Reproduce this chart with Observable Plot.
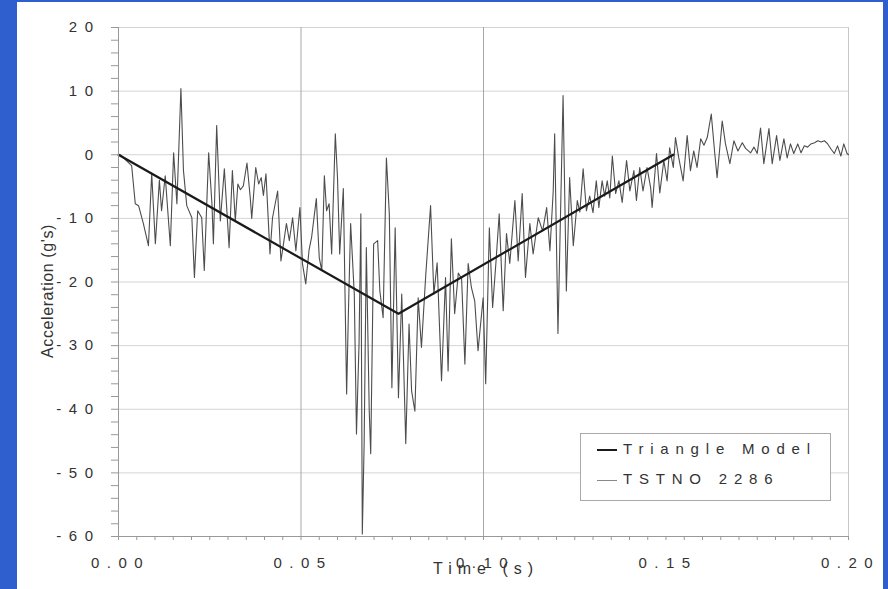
<!DOCTYPE html>
<html><head><meta charset="utf-8">
<script src="https://cdn.jsdelivr.net/npm/d3@7"></script>
<script src="https://cdn.jsdelivr.net/npm/@observablehq/plot@0.6"></script>
<style>
html,body{margin:0;padding:0;background:#fff;}
#wrap{position:relative;width:888px;height:589px;background:#2f5fcf;overflow:hidden;font-family:"Liberation Sans",Arial,sans-serif;}
#panel{position:absolute;left:17px;top:2px;width:866px;height:587px;background:#fff;}
#chart{position:absolute;left:0;top:0;}
#chart g[aria-label="y-axis tick label"], #chart g[aria-label="x-axis tick label"]{font-size:15px !important;}
#chart g[aria-label="y-axis tick label"] text,#chart g[aria-label="x-axis tick label"] text{letter-spacing:7.5px;font-size:15px !important;}
#ylab{position:absolute;left:48px;top:291px;transform:translate(-50%,-50%) rotate(-90deg);font-size:16px;letter-spacing:0.6px;color:#333;white-space:nowrap;}
#xlab{position:absolute;left:486px;top:560px;transform:translateX(-50%);font-size:16px;letter-spacing:6px;color:#333;white-space:nowrap;}
#legend{position:absolute;left:580px;top:433px;width:251px;height:68px;border:1px solid #aaa;background:#fff;box-sizing:border-box;}
.lrow{position:absolute;left:16px;font-size:15px;letter-spacing:6.8px;color:#333;white-space:nowrap;}
.ldash{display:inline-block;width:20px;height:0;vertical-align:middle;margin-right:6px;}
</style></head>
<body>
<div id="wrap"><div id="panel"></div><div id="chart"></div>
<div id="ylab">Acceleration (g's)</div>
<div id="xlab">Time (s)</div>
<div id="legend"></div>
</div>
<script>
// Axis ticks
const xTickValues = [0, 0.05, 0.10, 0.15, 0.20];
const xTickLabels = ["0.00", "0.05", "0.10", "0.15", "0.20"];
const xGridValues = [0.05, 0.10];
const yTickValues = [-60, -50, -40, -30, -20, -10, 0, 10, 20];
const yTickLabels = ["-60", "-50", "-40", "-30", "-20", "-10", "0", "10", "20"];

// Series names
const seriesNames = ["Triangle Model", "TSTNO 2286"];

// Triangle model
const triTime = [0, 0.0767, 0.152];
const triAccel = [0, -25, 0];

// TSTNO 2286 test record
const testTime = [0, 0.0005, 0.0036, 0.0046, 0.0055, 0.0068, 0.0082, 0.0091, 0.0101, 0.0112, 0.0118, 0.0128, 0.0142, 0.0151, 0.0160, 0.0171, 0.0178, 0.0187, 0.0201, 0.0208, 0.0217, 0.0228, 0.0235, 0.0247, 0.0256, 0.0260, 0.0269, 0.0279, 0.0290, 0.0303, 0.0312, 0.0320, 0.0327, 0.0334, 0.0342, 0.0352, 0.0361, 0.0365, 0.0376, 0.0384, 0.0391, 0.0397,
0.0404, 0.0415, 0.0422, 0.0436, 0.0445, 0.0452, 0.0460, 0.0468, 0.0477, 0.0486, 0.0497, 0.0504, 0.0513, 0.0522, 0.0529, 0.0542, 0.0550, 0.0557, 0.0564, 0.0570, 0.0577, 0.0584, 0.0594, 0.0600, 0.0606, 0.0616, 0.0625, 0.0630, 0.0636, 0.0646, 0.0652, 0.0659, 0.0664, 0.0668, 0.0673, 0.0679, 0.0687, 0.0691, 0.0699, 0.0710, 0.0716, 0.0725, 0.0734, 0.0742, 0.0749, 0.0758, 0.0767, 0.0776, 0.0787, 0.0796,
0.0803, 0.0812, 0.0821, 0.0830, 0.0842, 0.0855, 0.0864, 0.0873, 0.0885, 0.0896, 0.0903, 0.0912, 0.0921, 0.0931, 0.0940, 0.0949, 0.0958, 0.0967, 0.0976, 0.0985, 0.0999, 0.1006, 0.1016, 0.1025, 0.1034, 0.1043, 0.1054, 0.1063, 0.1072, 0.1086, 0.1095, 0.1106, 0.1115, 0.1127, 0.1136, 0.1150, 0.1162, 0.1173, 0.1182, 0.1191,
0.1195, 0.1204, 0.1218, 0.1227, 0.1236, 0.1246, 0.1257, 0.1264, 0.1273, 0.1282, 0.1291, 0.1300, 0.1309, 0.1316, 0.1325, 0.1332, 0.1339, 0.1346, 0.1353, 0.1362, 0.1371, 0.1380, 0.1392, 0.1401, 0.1412, 0.1419, 0.1428, 0.1437, 0.1448, 0.1458, 0.1462, 0.1474, 0.1483, 0.1494, 0.1503, 0.1510, 0.1520, 0.1526, 0.1535, 0.1547, 0.1558, 0.1567,
0.1576, 0.1585, 0.1595, 0.1604, 0.1613, 0.1624, 0.1633, 0.1640, 0.1654, 0.1663, 0.1675, 0.1686, 0.1697, 0.1709, 0.1718, 0.1732, 0.1741, 0.1750, 0.1759, 0.1768, 0.1782, 0.1791, 0.1803, 0.1812, 0.1823, 0.1832, 0.1841, 0.1850, 0.1861, 0.1870, 0.1879, 0.1888, 0.1897, 0.1907, 0.1916, 0.1925, 0.1934, 0.1943, 0.1952, 0.1961, 0.1970, 0.1979, 0.1987, 0.1996, 0.2000];
const testAccel = [0, 0, -1.7, -7.7, -8, -10.8, -14.3, -3, -14, -4, -8.8, -3.3, -14.3, 0.3, -7.7, 10.4, -2.5, -8, -9.9, -19.3, -8.8, -9.9, -18.2, 0.3, -7.7, -14, 4.6, -10.4, -2.2, -14.6, -2.5, -10.4, -4.6, -5.5, -4.9, -1.3, -6.8, -10, -2, -4.6, -3.6, -6.4,
-3, -15.6, -9.9, -5.7, -16.7, -14, -10.8, -13.5, -9.9, -15.1, -8.3, -17.1, -20.3, -15, -13, -6.9, -16.2, -18.2, -3.3, -8.8, -7.7, -15.6, 3.3, -3.6, -15.6, -5.3, -37.6, -24.5, -10.8, -21.9, -43.9, -29.7, -9.3, -59.6, -45.4, -14.6, -40.3, -47, -14, -13.5, -21.4, -25.6, -0.5, -9.3, -36.6, -11.5, -38.2, -21.9, -45.4, -26.6,
-37.1, -40.3, -22.5, -30.3, -18.7, -8, -21.9, -17, -35.5, -19.3, -34, -13.2, -25, -18.6, -19.5, -32.9, -17.1, -20.9, -23, -30.8, -22.5, -36, -11.5, -24, -17, -9.3, -24.5, -12.4, -17.1, -7.2, -16.7, -6.1, -19.3, -10.8, -15.6, -9.9, -12, -8.3, -15.1, -5.7,
3.3, -28.1, 9.3, -21.4, -3.6, -14.3, -7.2, -9, -2.2, -8.8, -6.5, -9.1, -4.1, -8.3, -4.1, -6.5, -4.1, -6.8, -0.2, -6.1, -4.1, -7.5, -0.9, -5.7, -2.5, -7.2, -2, -5.7, -2, -5.2, -8.3, 0.2, -6, -0.9, -4.1, 1.1, -2, 2.7, -0.5, -4.1, 3, -2.5,
0.6, -2, 2.5, 1.5, 2.7, 6.4, 0.6, -3.6, 5.3, 1.7, -1.4, 2.2, 0.6, 1.9, 1.0, 0.3, 1.2, 0.2, 4.2, -1.4, 4.1, -1.4, 3, -0.9, 2.5, -0.5, 1.7, 0.2, 1.7, 0.3, 1.4, 1.2, 1.7, 1.9, 2.2, 2, 2.2, 1.7, 0.9, 0.2, 1.4, -0.2, 1.7, 0.2, 0];

const tri = triTime.map((t, i) => ({t, a: triAccel[i]}));
const test = testTime.map((t, i) => ({t, a: testAccel[i]}));
const xMinor = d3.range(0, 0.2001, 0.005);
const yMinor = d3.range(-60, 20.01, 2);

const plot = Plot.plot({
  width: 888, height: 589,
  marginLeft: 118, marginRight: 40, marginTop: 27, marginBottom: 53,
  style: {background: "transparent", fontFamily: "'Liberation Sans', Arial, sans-serif", color: "#333"},
  x: {domain: [0, 0.2]},
  y: {domain: [-60, 20]},
  marks: [
    Plot.gridY(yTickValues, {stroke: "#d4d4d4", strokeOpacity: 1}),
    Plot.gridX(xGridValues, {stroke: "#a8a8a8", strokeOpacity: 1}),
    Plot.ruleX([0.2], {stroke: "#c8c8c8"}),
    Plot.line(test, {x: "t", y: "a", stroke: "#4d4d4d", strokeWidth: 1.1}),
    Plot.line(tri, {x: "t", y: "a", stroke: "#1a1a1a", strokeWidth: 2.2}),
    Plot.ruleX([0], {stroke: "#999"}),
    Plot.ruleY([-60], {stroke: "#999"}),
    Plot.axisY(yMinor, {tickSize: 7, tickFormat: () => "", stroke: "#999", label: null}),
    Plot.axisY(yTickValues, {tickSize: 0, tickPadding: 18, fontSize: 15, tickFormat: (d) => yTickLabels[yTickValues.indexOf(d)], fill: "#333", label: null}),
    Plot.axisX(xMinor, {tickSize: 4, tickFormat: () => "", stroke: "#999", label: null}),
    Plot.axisX(xTickValues, {tickSize: 0, tickPadding: 21, fontSize: 15, dx: 2, tickFormat: (d) => xTickLabels[xTickValues.indexOf(d)], fill: "#333", label: null})
  ]
});
document.getElementById("chart").appendChild(plot);

const leg = document.getElementById("legend");
const dashColors = ["#1a1a1a", "#888"];
const dashWidths = [2, 1];
const rowTops = [6, 36];
seriesNames.forEach((name, i) => {
  const row = document.createElement("div");
  row.className = "lrow";
  row.style.top = rowTops[i] + "px";
  const dash = document.createElement("span");
  dash.className = "ldash";
  dash.style.borderTop = dashWidths[i] + "px solid " + dashColors[i];
  row.appendChild(dash);
  row.appendChild(document.createTextNode(name));
  leg.appendChild(row);
});
</script>
</body></html>
